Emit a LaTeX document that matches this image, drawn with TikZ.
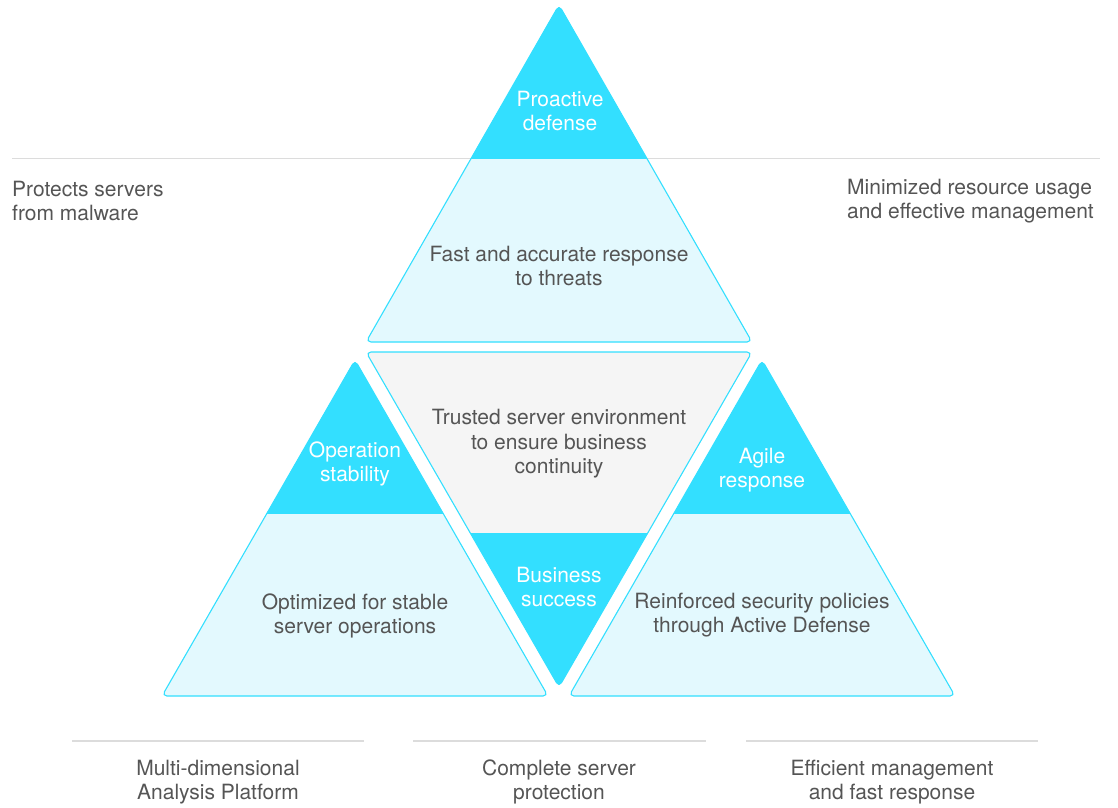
\documentclass[tikz,border=0pt]{standalone}
\usepackage{fontspec}
\setmainfont{TeX Gyre Heros}
\usetikzlibrary{positioning}
\definecolor{aqua}{HTML}{33DFFF}
\definecolor{pale}{HTML}{E3F9FE}
\definecolor{mist}{HTML}{F5F5F5}
\definecolor{ink}{HTML}{555555}
\definecolor{rulegray}{HTML}{DCDCDC}
\begin{document}
\begin{tikzpicture}[x=1pt,y=-1pt,
    txt/.style={text=ink,font=\fontsize{21}{24.5}\selectfont,align=center,inner sep=0pt},
    wtxt/.style={text=white,font=\fontsize{21}{24.5}\selectfont,align=center,inner sep=0pt},
    rim/.style={draw=aqua,line width=1.1pt,rounded corners=5pt,line join=round},
    sep/.style={draw=rulegray,line width=1.4pt}]
\useasboundingbox (0,0) rectangle (1118,807);
% guide lines
\coordinate (gl) at (12,158.5);
\coordinate (gr) at (1100,158.5);
\draw[sep] (gl) -- (gr);
\coordinate (b1l) at (72,741);
\coordinate (b1r) at (364,741);
\coordinate (b2l) at (413,741);
\coordinate (b2r) at (706,741);
\coordinate (b3l) at (746,741);
\coordinate (b3r) at (1038,741);
\draw[sep] (b1l) -- (b1r);
\draw[sep] (b2l) -- (b2r);
\draw[sep] (b3l) -- (b3r);
% top triangle
\begin{scope}[shift={(559,5)}]
\fill[pale,rounded corners=5pt] (0,0) -- (193,337) -- (-193,337) -- cycle;
\begin{scope}
\clip (-300,-10) rectangle (300,153.5);
\fill[aqua,rounded corners=5pt] (0,0) -- (193,337) -- (-193,337) -- cycle;
\end{scope}
\draw[rim] (0,0) -- (193,337) -- (-193,337) -- cycle;
\end{scope}
% left triangle
\begin{scope}[shift={(355,360)}]
\fill[pale,rounded corners=5pt] (0,0) -- (193,336) -- (-193,336) -- cycle;
\begin{scope}
\clip (-300,-10) rectangle (300,153);
\fill[aqua,rounded corners=5pt] (0,0) -- (193,336) -- (-193,336) -- cycle;
\end{scope}
\draw[rim] (0,0) -- (193,336) -- (-193,336) -- cycle;
\end{scope}
% right triangle
\begin{scope}[shift={(762,360)}]
\fill[pale,rounded corners=5pt] (0,0) -- (193,336) -- (-193,336) -- cycle;
\begin{scope}
\clip (-300,-10) rectangle (300,153);
\fill[aqua,rounded corners=5pt] (0,0) -- (193,336) -- (-193,336) -- cycle;
\end{scope}
\draw[rim] (0,0) -- (193,336) -- (-193,336) -- cycle;
\end{scope}
% middle (upside down)
\begin{scope}[shift={(559,687)}]
\fill[mist,rounded corners=5pt] (0,0) -- (193,-335) -- (-193,-335) -- cycle;
\begin{scope}
\clip (-300,10) rectangle (300,-154);
\fill[aqua,rounded corners=5pt] (0,0) -- (193,-335) -- (-193,-335) -- cycle;
\end{scope}
\draw[rim] (0,0) -- (193,-335) -- (-193,-335) -- cycle;
\end{scope}
% labels
\node[wtxt] (proactive) at (560,111) {Proactive\\defense};
\node[txt] (fast) at (559,266) {Fast and accurate response\\to threats};
\node[txt,anchor=west,align=left] (protects) at (12,201) {Protects servers\\from malware};
\node[txt,anchor=west,align=left] (minimized) at (847,201) {Minimized resource usage\\and effective management};
\node[txt] (trusted) at (559,444) {Trusted server environment\\to ensure business\\continuity};
\node[wtxt] (operation) at (355,464) {Operation\\stability};
\node[wtxt] (agile) at (762,470) {Agile\\response};
\node[wtxt] (business) at (559,587) {Business\\success};
\node[txt] (optimized) at (355,616) {Optimized for stable\\server operations};
\node[txt] (reinforced) at (762,615) {Reinforced security policies\\through Active Defense};
\node[txt] (multi) at (218,782) {Multi-dimensional\\Analysis Platform};
\node[txt] (complete) at (559,782) {Complete server\\protection};
\node[txt] (efficient) at (892,782) {Efficient management\\and fast response};
\end{tikzpicture}
\end{document}
